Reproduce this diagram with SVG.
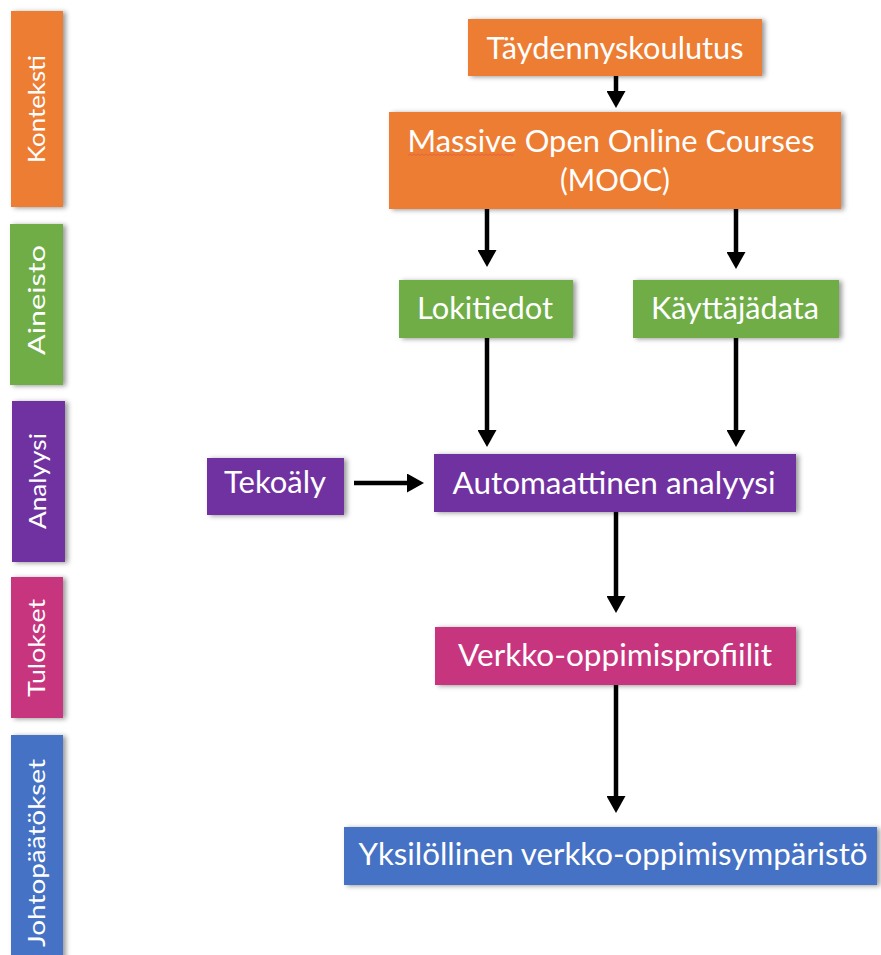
<svg xmlns="http://www.w3.org/2000/svg" width="881" height="955" viewBox="0 0 881 955">
<style>
.t{font-family:Lato,"Open Sans","Noto Sans",sans-serif;fill:#fff;font-size:30px}
.s{font-family:Lato,"Open Sans","Noto Sans",sans-serif;fill:#fff;font-size:23px}
.or{fill:#ED7D31}.gr{fill:#70AD47}.pu{fill:#7030A0}.pk{fill:#C8357F}.bl{fill:#4472C4}
.box{filter:url(#sh)}
.c line{stroke:#000;stroke-width:4.5;marker-end:url(#ah)}
</style>
<defs>
<filter id="sh" x="-20%" y="-30%" width="140%" height="160%">
<feDropShadow dx="3" dy="1" stdDeviation="2.5" flood-color="#000" flood-opacity="0.4"/>
</filter>
<marker id="ah" markerUnits="userSpaceOnUse" markerWidth="17" markerHeight="19" viewBox="0 0 17 19" refX="0" refY="9.5" orient="auto">
<path d="M0,0 L17,9.5 L0,19 z" fill="#000"/>
</marker>
</defs>
<rect width="881" height="955" fill="#fff"/>

<g id="side-kontekst">
<rect class="box or" x="11" y="11" width="52" height="196"/>
<text class="s" transform="translate(45,109) rotate(-90)" text-anchor="middle" textLength="108" lengthAdjust="spacingAndGlyphs">Konteksti</text>
</g>
<g id="side-aineisto">
<rect class="box gr" x="10" y="224" width="53" height="161"/>
<text class="s" transform="translate(45,300) rotate(-90)" text-anchor="middle" textLength="110" lengthAdjust="spacingAndGlyphs">Aineisto</text>
</g>
<g id="side-analyysi">
<rect class="box pu" x="12" y="401" width="53" height="161"/>
<text class="s" transform="translate(46,481) rotate(-90)" text-anchor="middle" textLength="96" lengthAdjust="spacingAndGlyphs">Analyysi</text>
</g>
<g id="side-tulokset">
<rect class="box pk" x="11" y="577" width="52" height="141"/>
<text class="s" transform="translate(45,648) rotate(-90)" text-anchor="middle" textLength="98" lengthAdjust="spacingAndGlyphs">Tulokset</text>
</g>
<g id="side-johtopaatokset">
<rect class="box bl" x="11" y="735" width="52" height="240"/>
<text class="s" transform="translate(45,853) rotate(-90)" text-anchor="middle" textLength="188" lengthAdjust="spacingAndGlyphs">Johtopäätökset</text>
</g>

<g class="c" id="connectors">
<line x1="616" y1="76" x2="616" y2="91"/>
<line x1="487" y1="209" x2="487" y2="250"/>
<line x1="736" y1="209" x2="736" y2="252"/>
<line x1="487" y1="338" x2="487" y2="430"/>
<line x1="736" y1="338" x2="736" y2="430"/>
<line x1="354" y1="483" x2="407" y2="483"/>
<line x1="616" y1="512" x2="616" y2="596"/>
<line x1="616" y1="685" x2="616" y2="796"/>
</g>

<g id="n-taydennyskoulutus">
<rect class="box or" x="468" y="19" width="294" height="57"/>
<text class="t" x="615" y="59" text-anchor="middle" textLength="257" lengthAdjust="spacingAndGlyphs">Täydennyskoulutus</text>
</g>
<g id="n-mooc">
<rect class="box or" x="389" y="112" width="452" height="97"/>
<text class="t" x="611" y="152" text-anchor="middle" textLength="407" lengthAdjust="spacingAndGlyphs">Massive Open Online Courses</text>
<text class="t" x="615" y="191" text-anchor="middle" textLength="110" lengthAdjust="spacingAndGlyphs">(MOOC)</text>
<path d="M408,155.5 l2,-1.5 l2,1.5 l2,-1.5 l2,1.5 l2,-1.5 l2,1.5 l2,-1.5 l2,1.5 l2,-1.5 l2,1.5 l2,-1.5 l2,1.5 l2,-1.5 l2,1.5 l2,-1.5 l2,1.5 l2,-1.5 l2,1.5 l2,-1.5 l2,1.5 l2,-1.5 l2,1.5 l2,-1.5 l2,1.5 l2,-1.5 l2,1.5 l2,-1.5 l2,1.5 l2,-1.5 l2,1.5 l2,-1.5 l2,1.5 l2,-1.5 l2,1.5 l2,-1.5 l2,1.5 l2,-1.5 l2,1.5 l2,-1.5 l2,1.5 l2,-1.5 l2,1.5 l2,-1.5 l2,1.5 l2,-1.5 l2,1.5 l2,-1.5 l2,1.5 l2,-1.5 l2,1.5 l2,-1.5 l2,1.5 l2,-1.5" fill="none" stroke="#E05050" stroke-width="0.8" opacity="0.7"/>
</g>
<g id="n-lokitiedot">
<rect class="box gr" x="399" y="280" width="174" height="58"/>
<text class="t" x="485" y="319" text-anchor="middle" textLength="136" lengthAdjust="spacingAndGlyphs">Lokitiedot</text>
</g>
<g id="n-kayttajadata">
<rect class="box gr" x="633" y="280" width="206" height="58"/>
<text class="t" x="735" y="319" text-anchor="middle" textLength="168" lengthAdjust="spacingAndGlyphs">Käyttäjädata</text>
</g>
<g id="n-tekoaly">
<rect class="box pu" x="207" y="458" width="137" height="57"/>
<text class="t" x="275" y="493" text-anchor="middle" textLength="102" lengthAdjust="spacingAndGlyphs">Tekoäly</text>
</g>
<g id="n-automaattinen">
<rect class="box pu" x="434" y="454" width="362" height="58"/>
<text class="t" x="614" y="494" text-anchor="middle" textLength="323" lengthAdjust="spacingAndGlyphs">Automaattinen analyysi</text>
</g>
<g id="n-verkko">
<rect class="box pk" x="435" y="627" width="361" height="58"/>
<text class="t" x="615" y="666" text-anchor="middle" textLength="314" lengthAdjust="spacingAndGlyphs">Verkko-oppimisprofiilit</text>
</g>
<g id="n-yksilollinen">
<rect class="box bl" x="344" y="827" width="533" height="58"/>
<text class="t" x="613" y="865" text-anchor="middle" textLength="509" lengthAdjust="spacingAndGlyphs">Yksilöllinen verkko-oppimisympäristö</text>
</g>
</svg>
